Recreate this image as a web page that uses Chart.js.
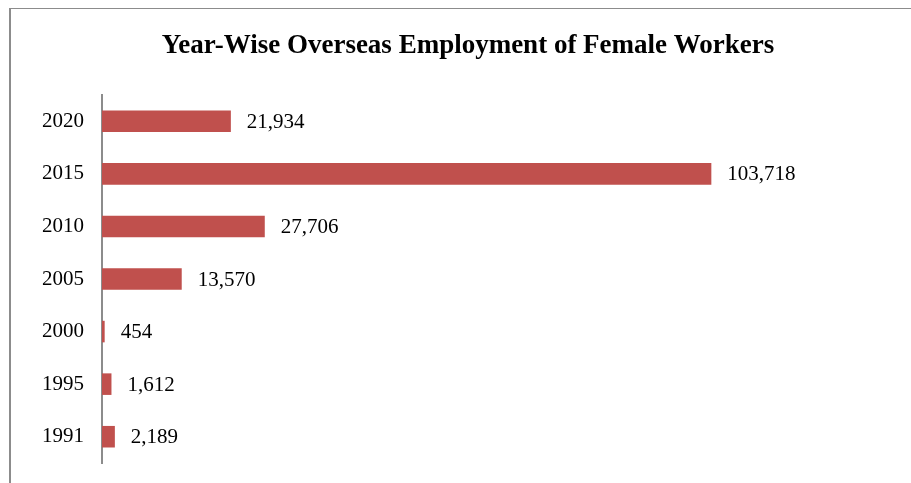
<!DOCTYPE html>
<html>
<head>
<meta charset="utf-8">
<script src="https://cdn.jsdelivr.net/npm/chart.js@4"></script>
<style>
  html, body { margin: 0; padding: 0; background: #fff; overflow: hidden; }
  #wrap { position: relative; width: 911px; height: 483px; }
  #frame {
    position: absolute; left: 9px; top: 8px; width: 960px; height: 520px;
    border-left: 2px solid #8c8c8c; border-top: 1px solid #8c8c8c;
  }
  canvas { position: absolute; left: 0; top: 0; }
</style>
</head>
<body>
<div id="wrap">
  <div id="frame"></div>
  <canvas id="chart" width="911" height="483"></canvas>
</div>
<script>
// Year-wise female worker numbers, top to bottom as shown
const years = ['2020', '2015', '2010', '2005', '2000', '1995', '1991'];
const workers = [21934, 103718, 27706, 13570, 454, 1612, 2189];
const chartTitle = 'Year-Wise Overseas Employment of Female Workers';

const serif = '"Liberation Serif", "Times New Roman", serif';

// Title and value labels drawn by hand (no datalabels plugin offline)
const labelPlugin = {
  id: 'labels',
  afterDraw(chart) {
    const ctx = chart.ctx;
    ctx.save();
    ctx.fillStyle = '#000';
    ctx.font = 'bold 27px ' + serif;
    ctx.textAlign = 'center';
    ctx.textBaseline = 'alphabetic';
    ctx.fillText(chartTitle, 468, 53);

    ctx.font = '21px ' + serif;
    ctx.textAlign = 'left';
    ctx.textBaseline = 'middle';
    chart.getDatasetMeta(0).data.forEach((bar, i) => {
      ctx.fillText(workers[i].toLocaleString('en-US'), bar.x + 16, bar.y + 1);
    });
    ctx.restore();
  }
};

new Chart(document.getElementById('chart'), {
  type: 'bar',
  data: {
    labels: years,
    datasets: [{
      data: workers,
      backgroundColor: '#c0504d',
      borderWidth: 0,
      barPercentage: 1,
      categoryPercentage: 0.41
    }]
  },
  options: {
    indexAxis: 'y',
    responsive: false,
    animation: false,
    layout: { padding: { top: 95, bottom: 20, left: 0, right: 104 } },
    plugins: {
      legend: { display: false },
      title: { display: false },
      tooltip: { enabled: false }
    },
    scales: {
      x: {
        display: false,
        min: 0,
        max: 120000
      },
      y: {
        afterFit(scale) {
          scale.width = 102;
          scale.paddingTop = 0;
          scale.paddingBottom = 0;
        },
        grid: { display: false, drawTicks: false },
        border: { display: true, color: '#8c8c8c', width: 2 },
        ticks: {
          color: '#000',
          padding: 18,
          font: { family: serif, size: 21 }
        }
      }
    }
  },
  plugins: [labelPlugin]
});
</script>
</body>
</html>
